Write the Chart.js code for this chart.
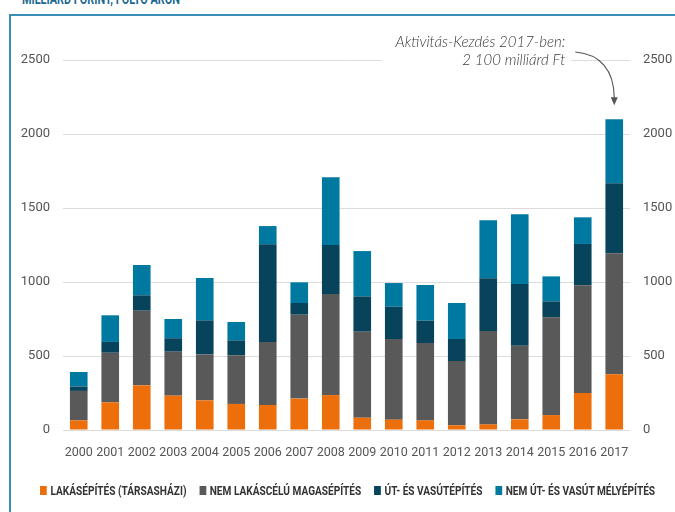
<!DOCTYPE html>
<html>
<head>
<meta charset="utf-8">
<title>Építőipari aktivitás-kezdés</title>
<script src="https://cdn.jsdelivr.net/npm/chart.js@4/dist/chart.umd.min.js"></script>
<style>
  html, body { margin: 0; padding: 0; background: #fff; }
  #wrap { position: relative; width: 675px; height: 512px; overflow: hidden; background: #fff; }
  #frame { position: absolute; left: 9px; top: 14px; width: 720px; height: 560px;
           border-left: 2px solid #3a8db4; border-top: 2px solid #3a8db4; }
  #unit { position: absolute; left: 22px; top: -10px; white-space: nowrap;
          font: bold 15px Roboto, "Liberation Sans", sans-serif;
          color: #1d6a92; transform-origin: 0 50%; }
  canvas { position: absolute; left: 0; top: 0; }
  #legend { position: absolute; left: 40px; top: 482px; display: flex; align-items: center;
            white-space: nowrap; transform-origin: 0 50%;
            font: bold 13.5px Roboto, "Liberation Sans", sans-serif;
            color: #333; }
  #legend .item { display: flex; align-items: center; margin-right: 17px; }
  #legend .item:last-child { margin-right: 0; }
  #legend .box { width: 9px; height: 9px; margin-right: 5px; }
</style>
</head>
<body>
<div id="wrap">
  <div id="frame"></div>
  <div id="unit">MILLIÁRD FORINT, FOLYÓ ÁRON</div>
  <canvas id="chart" width="675" height="512"></canvas>
  <div id="legend"></div>
</div>
<script>
// Years on the category axis
const years = ['2000','2001','2002','2003','2004','2005','2006','2007','2008',
               '2009','2010','2011','2012','2013','2014','2015','2016','2017'];

// Activity starts by segment, billion HUF at current prices
const housing    = [65, 187, 302, 232, 200, 176, 169, 212, 236, 83, 70, 65, 32, 38, 72, 101, 250, 376];
const nonResid   = [199, 335, 504, 297, 311, 329, 426, 567, 683, 581, 545, 523, 434, 631, 498, 660, 728, 818];
const roadRail   = [29, 73, 104, 91, 230, 101, 660, 79, 331, 239, 218, 151, 149, 356, 416, 108, 279, 473];
const otherCivil = [99, 180, 205, 130, 286, 124, 123, 140, 457, 306, 160, 241, 243, 392, 471, 169, 180, 433];

// Value axis ticks
const yTicks = [0, 500, 1000, 1500, 2000, 2500];

const seriesNames  = ['LAKÁSÉPÍTÉS (TÁRSASHÁZI)', 'NEM LAKÁSCÉLÚ MAGASÉPÍTÉS',
                      'ÚT- ÉS VASÚTÉPÍTÉS', 'NEM ÚT- ÉS VASÚT MÉLYÉPÍTÉS'];
const seriesColors = ['#ec6f0c', '#595959', '#07435a', '#0079a1'];

const noteLine1 = 'Aktivitás-Kezdés 2017-ben:';
const noteLine2 = '2 100 milliárd Ft';

const tickFont = 'Roboto, "Liberation Sans", sans-serif';

// Callout text with a curved arrow pointing at the last bar
const calloutPlugin = {
  id: 'callout',
  afterDraw(chart) {
    const { ctx, scales: { x, y } } = chart;
    const last = years.length - 1;
    const total = housing[last] + nonResid[last] + roadRail[last] + otherCivil[last];
    const bx = x.getPixelForValue(last);
    const by = y.getPixelForValue(total);
    const yTop = y.getPixelForValue(yTicks[yTicks.length - 1]);

    ctx.save();
    ctx.font = 'italic 300 15px Lato, "Open Sans", sans-serif';
    const tx = bx - 49;
    const w1 = ctx.measureText(noteLine1).width;
    // white backing so the top gridline stops at the text block
    ctx.fillStyle = '#fff';
    ctx.fillRect(tx - w1 - 14, yTop - 30, w1 + 20, 38);

    ctx.fillStyle = '#3a3a3a';
    ctx.textAlign = 'right';
    ctx.textBaseline = 'middle';
    ctx.fillText(noteLine1, tx, yTop - 18);
    ctx.fillText(noteLine2, tx, yTop);

    // curved arrow
    const sx = bx - 39, sy = yTop - 8;
    const tipY = by - 14;
    ctx.strokeStyle = '#555';
    ctx.lineWidth = 1.1;
    ctx.beginPath();
    ctx.moveTo(sx, sy);
    ctx.bezierCurveTo(sx + 25, sy + 2, bx, sy + 18, bx, tipY - 7);
    ctx.stroke();
    ctx.fillStyle = '#555';
    ctx.beginPath();
    ctx.moveTo(bx, tipY);
    ctx.lineTo(bx - 3.5, tipY - 8);
    ctx.lineTo(bx + 3.5, tipY - 8);
    ctx.closePath();
    ctx.fill();
    ctx.restore();
  }
};

const seriesData = [housing, nonResid, roadRail, otherCivil];

new Chart(document.getElementById('chart'), {
  type: 'bar',
  data: {
    labels: years,
    datasets: seriesData.map((d, i) => ({
      label: seriesNames[i],
      data: d,
      backgroundColor: seriesColors[i],
      borderWidth: 0,
      barPercentage: 0.56,
      categoryPercentage: 1.0
    }))
  },
  options: {
    responsive: false,
    animation: false,
    devicePixelRatio: 1,
    layout: { padding: { top: 60, left: 0, right: 0, bottom: 0 } },
    plugins: { legend: { display: false }, tooltip: { enabled: false } },
    scales: {
      x: {
        stacked: true,
        grid: { display: false },
        border: { display: false },
        ticks: { color: '#555', padding: 7, maxRotation: 0, minRotation: 0, autoSkip: false,
                 font: { family: tickFont, size: 12.5 } },
        afterFit(scale) { scale.height = 82; }
      },
      y: {
        stacked: true,
        position: 'left',
        min: 0, max: 2500,
        afterBuildTicks(scale) { scale.ticks = yTicks.map(v => ({ value: v })); },
        grid: { color: '#dcdcdc', lineWidth: 1, drawTicks: false },
        border: { display: false },
        ticks: { color: '#555', padding: 13, callback: v => String(v),
                 font: { family: tickFont, size: 13 } },
        afterFit(scale) { scale.width = 63; }
      },
      y2: {
        position: 'right',
        min: 0, max: 2500,
        afterBuildTicks(scale) { scale.ticks = yTicks.map(v => ({ value: v })); },
        grid: { display: false, drawTicks: false },
        border: { display: false },
        ticks: { color: '#555', padding: 13, callback: v => String(v),
                 font: { family: tickFont, size: 13 } },
        afterFit(scale) { scale.width = 45; }
      }
    }
  },
  plugins: [calloutPlugin]
});

// Legend row
const legend = document.getElementById('legend');
seriesNames.forEach((name, i) => {
  const item = document.createElement('div');
  item.className = 'item';
  const box = document.createElement('span');
  box.className = 'box';
  box.style.background = seriesColors[i];
  const txt = document.createElement('span');
  txt.textContent = name;
  item.appendChild(box);
  item.appendChild(txt);
  legend.appendChild(item);
});
legend.style.transform = 'scaleX(' + (615 / legend.scrollWidth) + ')';

// Condense the unit caption to its printed width
const unit = document.getElementById('unit');
unit.style.transform = 'scaleX(' + (158 / unit.scrollWidth) + ')';
</script>
</body>
</html>
